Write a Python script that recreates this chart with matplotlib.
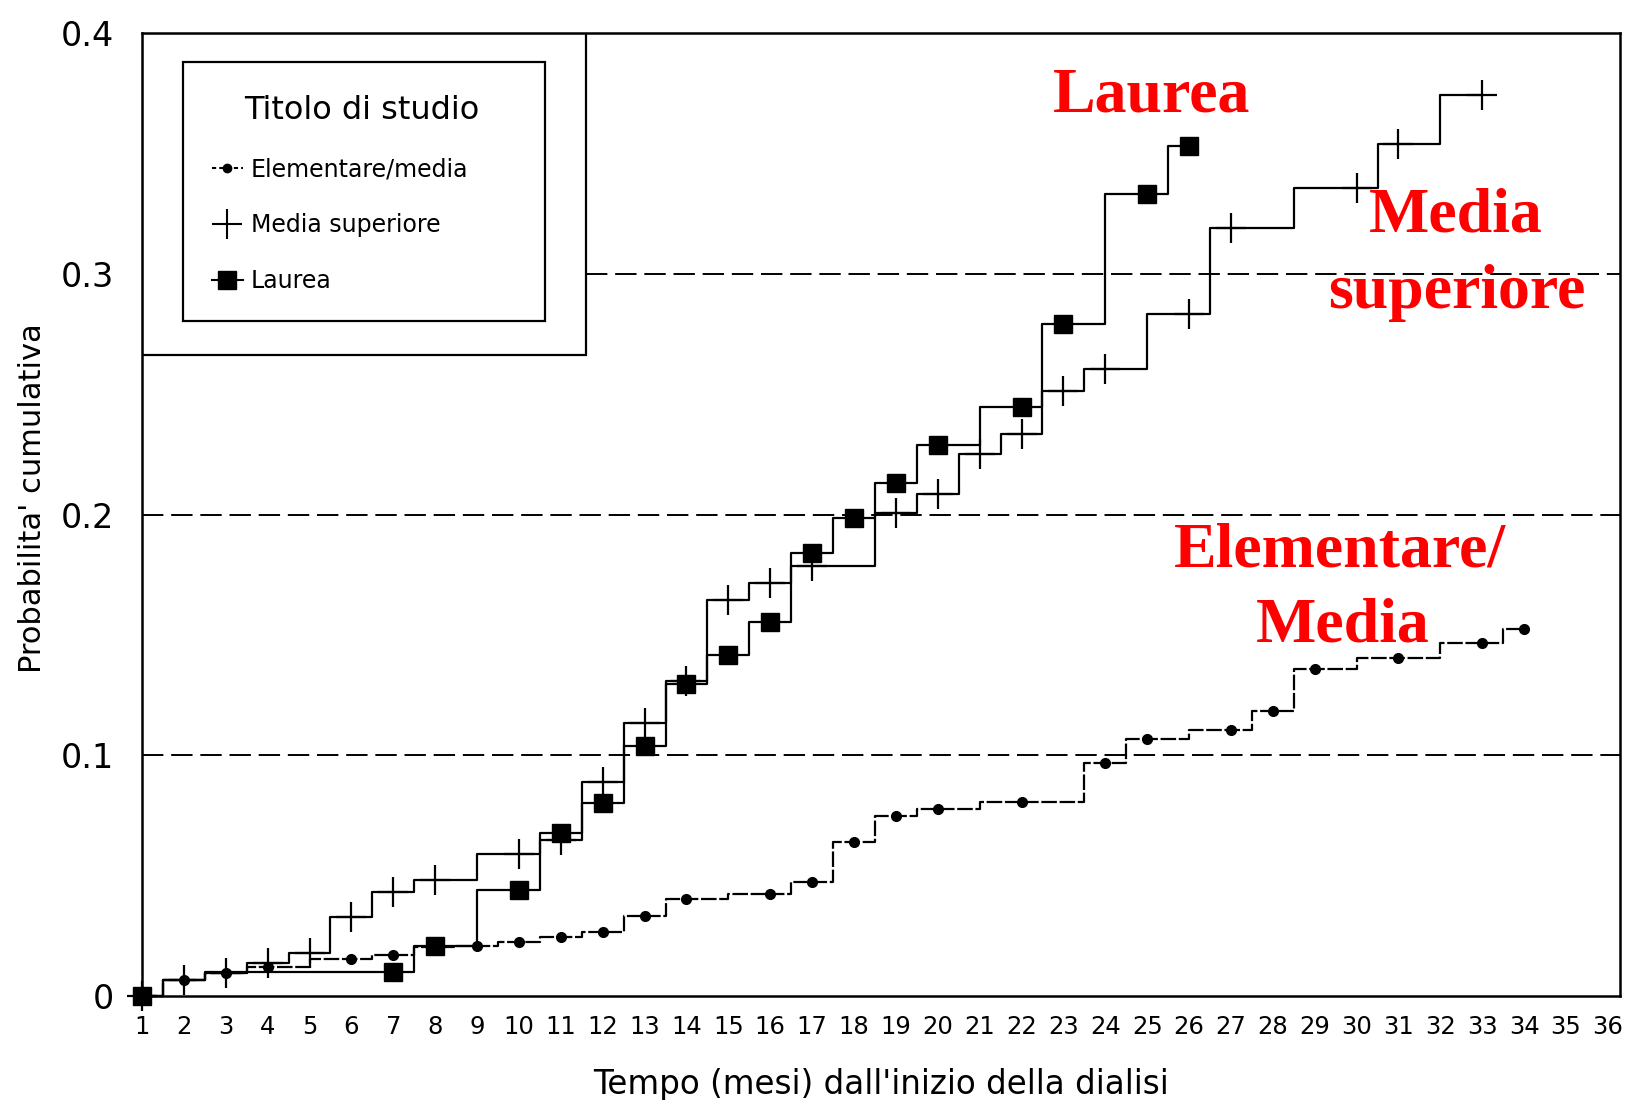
import matplotlib.pyplot as plt
from matplotlib.patches import Rectangle
from matplotlib.lines import Line2D

# mesi dall'inizio della dialisi e probabilita' cumulativa
elem_mesi = [1, 2, 3, 4, 6, 7, 8, 9, 10, 11, 12, 13, 14, 16, 17, 18, 19, 20,
             22, 23, 24, 25, 27, 28, 29, 31, 33, 34]
elem_prob = [0, 0.0066, 0.0097, 0.0121, 0.0152, 0.0170, 0.0205, 0.0207, 0.0225,
             0.0246, 0.0267, 0.0333, 0.0402, 0.0423, 0.0474, 0.0638, 0.0748,
             0.0776, 0.0804, 0.0804, 0.0967, 0.1066, 0.1105, 0.1184, 0.1360,
             0.1405, 0.1465, 0.1526]
elem_senza_marker = [23]

sup_mesi = [1, 2, 3, 4, 5, 6, 7, 8, 10, 11, 12, 13, 14, 15, 16, 17, 18, 19, 20,
            21, 22, 23, 24, 26, 27, 30, 31, 33]
sup_prob = [0, 0.0066, 0.0097, 0.0138, 0.0180, 0.0327, 0.0433, 0.0484, 0.0592,
            0.0650, 0.0887, 0.1136, 0.1310, 0.1645, 0.1716, 0.1786, 0.1786,
            0.2007, 0.2086, 0.2253, 0.2336, 0.2514, 0.2603, 0.2833, 0.3189,
            0.3356, 0.3541, 0.3744]
sup_senza_marker = [18]

lau_mesi = [1, 2, 3, 7, 8, 10, 11, 12, 13, 14, 15, 16, 17, 18, 19, 20, 22, 23,
            25, 26]
lau_prob = [0, 0.0066, 0.0100, 0.0100, 0.0207, 0.0440, 0.0677, 0.0801, 0.1039,
            0.1295, 0.1415, 0.1555, 0.1840, 0.1986, 0.2131, 0.2290, 0.2445,
            0.2790, 0.3330, 0.3530]
lau_senza_marker = [2, 3]

etichette = ['Elementare/media', 'Media superiore', 'Laurea']
mesi_ticks = list(range(1, 37))
prob_ticks = [0, 0.1, 0.2, 0.3, 0.4]
prob_labels = ['0', '0.1', '0.2', '0.3', '0.4']


def maschera(mesi, esclusi):
    return [m not in esclusi for m in mesi]


fig = plt.figure(figsize=(16.27, 11), dpi=100)
ax = fig.add_axes([0.0873, 0.0945, 0.9084, 0.8755])

ax.plot(elem_mesi, elem_prob, drawstyle='steps-mid', color='black', lw=1.6,
        ls=(0, (7, 1.2)), marker='o', ms=7,
        markevery=maschera(elem_mesi, elem_senza_marker), clip_on=False, zorder=3)
ax.plot(sup_mesi, sup_prob, drawstyle='steps-mid', color='black', lw=1.6,
        marker='+', ms=21, mew=1.6,
        markevery=maschera(sup_mesi, sup_senza_marker), clip_on=False, zorder=3)
ax.plot(lau_mesi, lau_prob, drawstyle='steps-mid', color='black', lw=1.6,
        marker='s', ms=12.5,
        markevery=maschera(lau_mesi, lau_senza_marker), clip_on=False, zorder=4)

# linee tratteggiate di riferimento
tratteggio = (0, (11, 4))
ax.axhline(0.1, color='black', lw=1.4, ls=tratteggio, zorder=1)
ax.axhline(0.2, color='black', lw=1.4, ls=tratteggio, zorder=1)
ax.axhline(0.3, xmin=0.3004, color='black', lw=1.4, ls=tratteggio, zorder=1)

# riquadro della legenda
ax.add_patch(Rectangle((0, 0.6656), 0.3004, 0.3344, transform=ax.transAxes,
                       facecolor='white', edgecolor='black', lw=1.6, zorder=2))
ax.add_patch(Rectangle((0.0277, 0.7009), 0.245, 0.269, transform=ax.transAxes,
                       fill=False, edgecolor='black', lw=1.6, zorder=5))
ax.text(0.1489, 0.920, 'Titolo di studio', transform=ax.transAxes,
        ha='center', va='center', fontsize=23, zorder=6)

maniglie = [
    Line2D([], [], color='black', lw=1.5, ls=(0, (2, 1.5)), marker='o', ms=6),
    Line2D([], [], color='black', ls='none', marker='+', ms=22, mew=1.5),
    Line2D([], [], color='black', lw=1.5, marker='s', ms=13),
]
leg = ax.legend(maniglie, etichette, loc='upper left',
                bbox_to_anchor=(0.0474, 0.8705), frameon=False, fontsize=17,
                handlelength=1.3, handletextpad=0.35, labelspacing=1.34,
                borderpad=0, borderaxespad=0)
leg.set_zorder(6)

# etichette rosse
rosso = dict(color='red', fontsize=46, fontweight='bold',
             family=['Liberation Serif', 'DejaVu Serif'], ha='center',
             va='baseline', zorder=7)
ax.text(25.11, 0.3672, 'Laurea', **rosso)
ax.text(32.37, 0.3175, 'Media', **rosso)
ax.text(32.39, 0.2857, 'superiore', **rosso)
ax.text(29.6, 0.1786, 'Elementare/', **rosso)
ax.text(29.67, 0.1472, 'Media', **rosso)

ax.set_xlim(1, 36.29)
ax.set_ylim(0, 0.4)
ax.set_xticks(mesi_ticks)
ax.set_yticks(prob_ticks)
ax.set_yticklabels(prob_labels)
ax.tick_params(axis='both', length=0)
ax.tick_params(axis='x', labelsize=17.5, pad=14)
ax.tick_params(axis='y', labelsize=24, pad=20)
for lato in ax.spines.values():
    lato.set_linewidth(1.8)

ax.set_xlabel("Tempo (mesi) dall'inizio della dialisi", fontsize=23.5, va='center')
ax.xaxis.set_label_coords(0.5, -0.0914)
ax.set_ylabel("Probabilita' cumulativa", fontsize=22, va='center')
ax.yaxis.set_label_coords(-0.0744, 0.517)

fig.savefig('out.png', dpi=100)
